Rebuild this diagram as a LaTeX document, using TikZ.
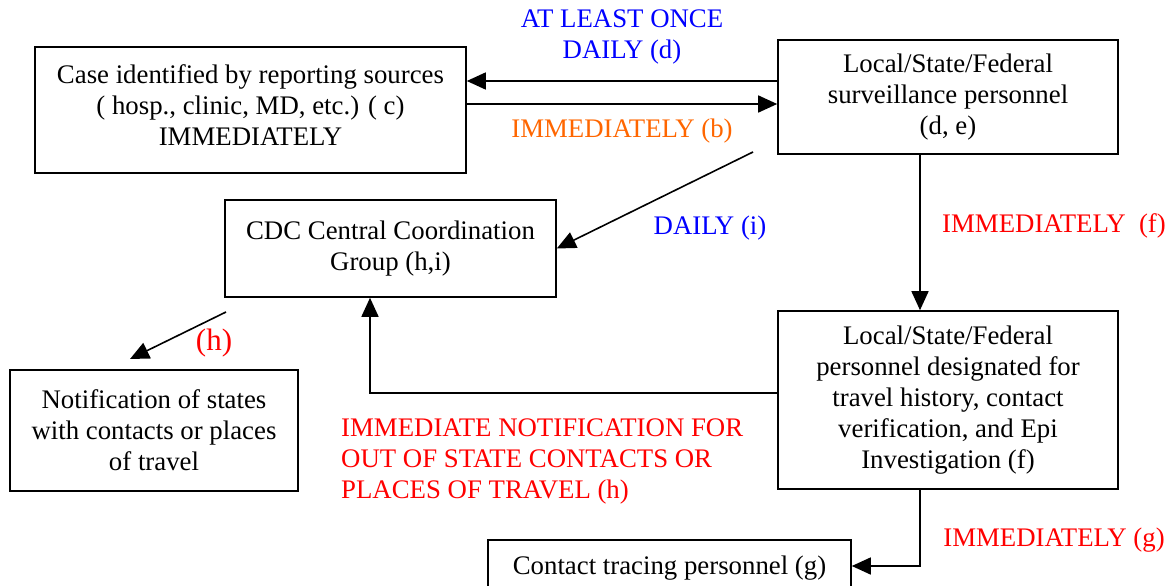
\documentclass[tikz,border=0pt]{standalone}
\usepackage{fontspec}
\setmainfont{Liberation Serif}
\usepackage{tikz}
\usetikzlibrary{arrows.meta,positioning}
\definecolor{notered}{RGB}{255,0,0}
\definecolor{noteblue}{RGB}{0,0,255}
\definecolor{noteorange}{RGB}{255,102,0}
\tikzstyle{stage}=[draw,line width=1.6pt,rectangle,inner sep=0pt,align=center,font=\fontsize{26.8}{31}\selectfont]
\tikzstyle{note}=[inner sep=0pt,align=center,font=\fontsize{26.8}{31}\selectfont]
\tikzstyle{flow}=[line width=1.6pt,-{Triangle[length=19pt,width=17pt]}]

\begin{document}
\begin{tikzpicture}[x=1pt,y=-1pt]
            \useasboundingbox (0,0) rectangle (1170,586);
            \node[stage,minimum width=431pt,minimum height=126pt] (case) at (250.5,110) {};
            \node[note] (casetext) at (250.5,105)
                {Case identified by reporting sources\\( hosp., clinic, MD, etc.) ( c)\\IMMEDIATELY};
            \node[stage,minimum width=340pt,minimum height=114pt] (surv) at (948,97)
                {Local/State/Federal\\surveillance personnel\\(d, e)};
            \node[stage,minimum width=331pt,minimum height=97pt] (cdc) at (390.5,248.5)
                {CDC Central Coordination\\Group (h,i)};
            \node[stage,minimum width=288pt,minimum height=121pt] (states) at (154,430.5)
                {Notification of states\\with contacts or places\\of travel};
            \node[stage,minimum width=340pt,minimum height=178pt] (pers) at (948,400)
                {Local/State/Federal\\personnel designated for\\travel history, contact\\verification, and Epi\\Investigation (f)};
            \node[stage,minimum width=363pt,minimum height=56pt] (trace) at (669.5,568)
                {Contact tracing personnel (g)};
            \coordinate (dailystart) at (753,152);
            \coordinate (hstart) at (226,312);
            \coordinate (hend) at (130,359);
            % labels
            \node[note,text=noteblue] (lbld) at (622,37) {AT LEAST ONCE\\DAILY (d)};
            \node[note,text=noteorange] (lblb) at (622,131) {IMMEDIATELY (b)};
            \node[note,text=noteblue] (lbli) at (710,228) {DAILY (i)};
            \node[note,text=notered] (lblf) at (1054,226) {IMMEDIATELY\ \ (f)};
            \node[note,text=notered,font=\fontsize{31}{36}\selectfont] (lblh) at (214,343) {(h)};
            \node[note,text=notered,align=left,anchor=west] (lblout) at (341,461)
                {IMMEDIATE NOTIFICATION FOR\\OUT OF STATE CONTACTS OR\\PLACES OF TRAVEL (h)};
            \node[note,text=notered] (lblg) at (1054,540) {IMMEDIATELY (g)};
            % connectors
            \draw[flow] ([yshift=16pt]surv.west) -- ([yshift=16pt]surv.west -| case.east);
            \draw[flow] ([yshift=6pt]case.east) -- ([yshift=6pt]case.east -| surv.west);
            \draw[flow] (dailystart) -- (cdc.east);
            \draw[flow] ([xshift=-28pt]surv.south) -- ([xshift=-28pt]surv.south |- pers.north);
            \draw[flow] ([yshift=7pt]pers.west) -| ([xshift=-20.5pt]cdc.south);
            \draw[flow] (hstart) -- (hend);
            \draw[flow] ([xshift=-28pt]pers.south) |- ([yshift=2pt]trace.east);
\end{tikzpicture}
\end{document}
